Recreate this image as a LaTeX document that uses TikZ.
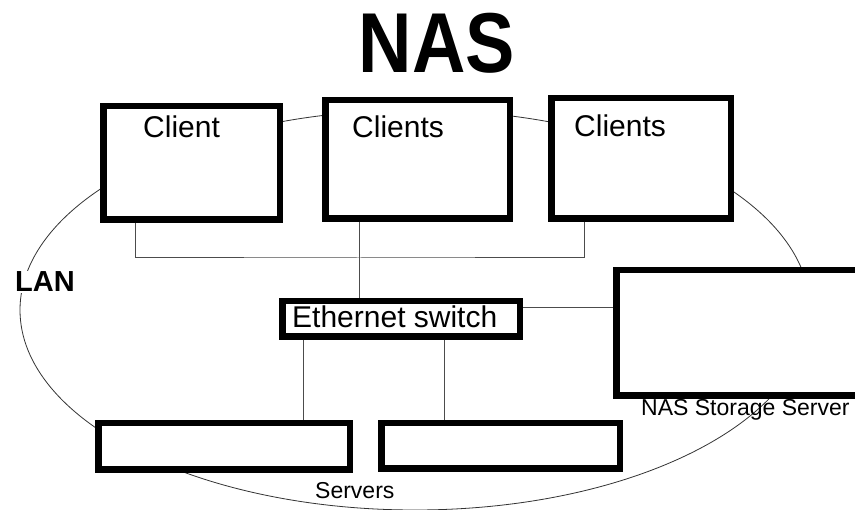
\documentclass[tikz,border=0pt]{standalone}
\usepackage{fontspec}
\setmainfont{Liberation Sans}
\tikzstyle{box}=[draw=black, fill=white, line width=6.5pt, inner sep=0pt]
\tikzstyle{wire}=[draw=black!70, line width=1pt]
\tikzstyle{big}=[font=\fontsize{30}{36}\selectfont, inner sep=0pt, anchor=base west]
\tikzstyle{small}=[font=\fontsize{23}{27}\selectfont, inner sep=0pt, anchor=base west]

\begin{document}
\begin{tikzpicture}[x=1pt,y=-1pt]
                    \useasboundingbox (0,0) rectangle (855,510);
                    \draw[black!80, line width=0.8pt] (415,310) ellipse [x radius=395, y radius=200];
                    \node[box, minimum width=176.5pt, minimum height=113.5pt] (c1) at (191.5,163) {};
                    \node[box, minimum width=184.5pt, minimum height=118.5pt] (c2) at (417.5,159.5) {};
                    \node[box, minimum width=179.5pt, minimum height=120.5pt] (c3) at (641,158.5) {};
                    \node[box, minimum width=237.5pt, minimum height=35.5pt] (sw) at (401,319) {};
                    \node[box, minimum width=250.5pt, minimum height=125.5pt] (nas) at (741.5,333) {};
                    \node[box, minimum width=251.5pt, minimum height=46.5pt] (sa) at (224,446.5) {};
                    \node[box, minimum width=238.5pt, minimum height=45.5pt] (sb) at (500.5,446) {};
                    \node[big] (t1) at (143,138) {Client};
                    \node[big] (t2) at (352,138) {Clients};
                    \node[big] (t3) at (574,137) {Clients};
                    \node[big] (tsw) at (292,328) {Ethernet switch};
                    \node[small] (tnas) at (641,416) {NAS Storage Server};
                    \node[small] (tsrv) at (315,499) {Servers};
                    \node[fill=white, inner sep=1pt, anchor=base west, font=\bfseries\fontsize{29}{34}\selectfont] (lan) at (14,292) {LAN};
                    \node[inner sep=0pt, anchor=base, font=\bfseries\fontsize{85}{90}\selectfont] (title) at (437,73) {\scalebox{0.87}[1]{NAS}};
                    \coordinate (bus) at (359,258);
                    \draw[wire] ([xshift=-56.5pt]c1.south) |- (bus) -| ([xshift=-57pt]c3.south);
                    \draw[wire] ([xshift=-58.5pt]c2.south) -- ([xshift=-58.5pt]c2.south |- sw.north);
                    \draw[wire] ([yshift=11pt]sw.east) -- ([yshift=11pt]sw.east -| nas.west);
                    \draw[wire] ([xshift=-98pt]sw.south) -- ([xshift=-98pt]sw.south |- sa.north);
                    \draw[wire] ([xshift=43pt]sw.south) -- ([xshift=43pt]sw.south |- sb.north);
                    \end{tikzpicture}
\end{document}
